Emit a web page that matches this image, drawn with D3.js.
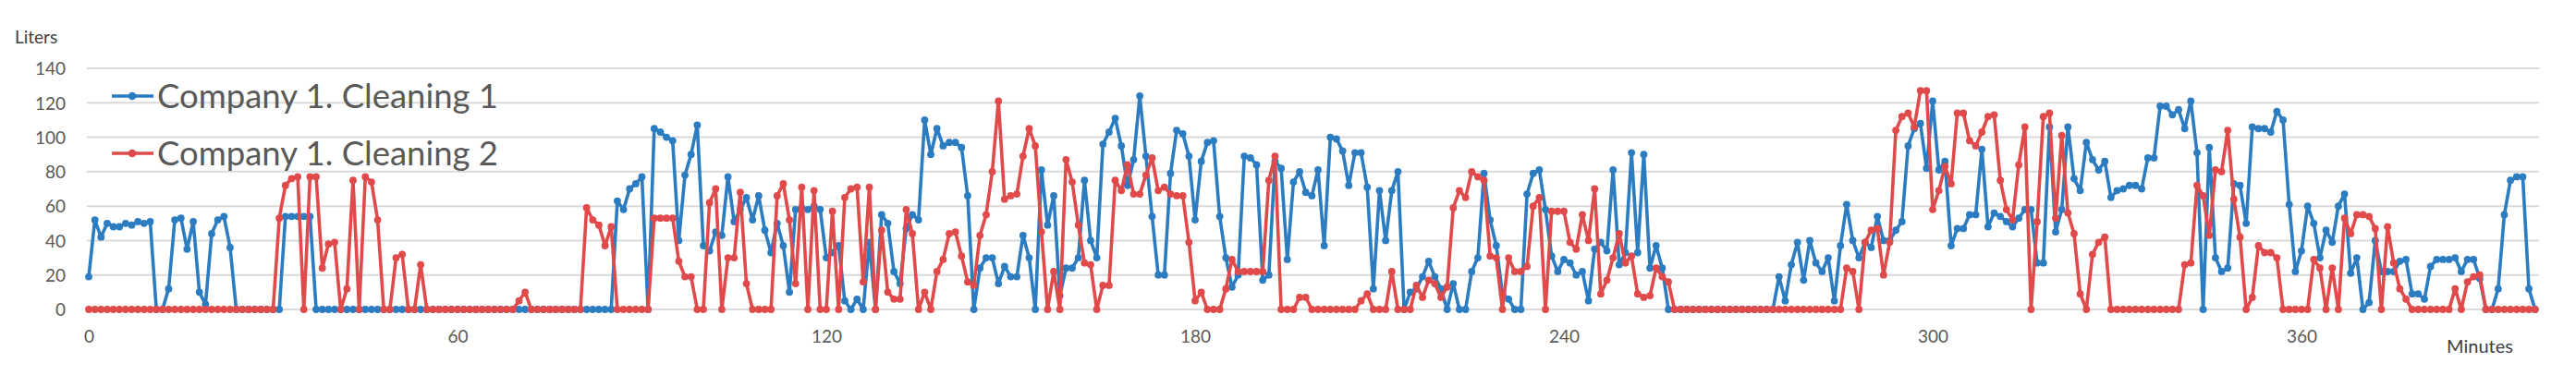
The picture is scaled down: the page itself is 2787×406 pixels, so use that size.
<!DOCTYPE html>
<html><head><meta charset="utf-8">
<script src="https://cdn.jsdelivr.net/npm/d3@7"></script>
<style>html,body{margin:0;padding:0;background:#fff;} svg{display:block;}</style>
</head><body>
<script>
// Minutes (category axis): one reading per minute, 0 .. 398
const minutes = d3.range(0, 399);

const cleaning1 = [
  19,52,42,50,48,48,50,49,51,50,
  51,0,0,12,52,53,35,51,10,3,
  44,52,54,36,0,0,0,0,0,0,
  0,0,54,54,54,54,54,0,0,0,
  0,0,0,0,0,0,0,0,0,0,
  0,0,0,0,0,0,0,0,0,0,
  0,0,0,0,0,0,0,0,0,0,
  0,0,0,0,0,0,0,0,0,0,
  0,0,0,0,0,0,63,58,70,73,
  77,0,105,103,100,98,40,78,90,107,
  37,34,45,43,77,51,58,65,52,66,
  46,33,50,37,10,58,59,58,60,58,
  30,33,37,5,0,6,0,39,0,55,
  50,22,15,47,55,52,110,90,105,95,
  97,97,94,66,0,24,30,30,15,25,
  19,19,43,30,0,81,49,66,8,24,
  24,30,75,40,30,96,103,111,95,72,
  87,124,89,54,20,20,79,104,102,89,
  52,86,97,98,54,30,13,20,89,88,
  84,17,20,86,82,29,74,80,68,66,
  81,37,100,99,92,72,91,91,71,12,
  69,40,69,80,0,10,12,19,28,19,
  12,0,15,0,0,22,30,79,52,37,
  9,6,0,0,67,79,81,58,31,22,
  29,27,20,22,5,35,39,34,81,26,
  33,91,33,90,24,37,24,0,0,0,
  0,0,0,0,0,0,0,0,0,0,
  0,0,0,0,0,19,5,26,39,17,
  40,27,22,30,5,37,61,40,30,39,
  36,54,40,40,46,51,95,105,108,82,
  121,81,86,37,47,47,55,55,93,48,
  56,54,51,48,53,58,58,27,27,106,
  45,58,106,76,69,97,87,81,86,65,
  69,70,72,72,70,88,88,118,118,113,
  116,105,121,91,0,94,30,22,24,73,
  72,50,106,105,105,103,115,110,61,22,
  34,60,50,30,46,39,60,67,21,30,
  0,4,40,22,22,22,28,29,9,9,
  6,25,29,29,29,30,22,29,29,18,
  0,0,12,55,75,77,77,12,0
];

const cleaning2 = [
  0,0,0,0,0,0,0,0,0,0,
  0,0,0,0,0,0,0,0,0,0,
  0,0,0,0,0,0,0,0,0,0,
  0,53,72,76,77,0,77,77,24,38,
  39,0,12,75,0,77,74,52,0,0,
  30,32,0,0,26,0,0,0,0,0,
  0,0,0,0,0,0,0,0,0,0,
  5,10,0,0,0,0,0,0,0,0,
  0,59,52,49,37,48,0,0,0,0,
  0,0,53,53,53,53,28,19,19,0,
  0,62,70,0,30,30,68,15,0,0,
  0,0,66,73,52,15,71,0,69,0,
  0,57,0,65,70,71,16,71,0,46,
  10,6,6,58,44,0,10,0,22,29,
  44,45,31,16,14,43,55,80,121,64,
  66,67,89,105,95,45,0,22,0,87,
  74,49,27,26,0,14,14,75,69,84,
  67,67,78,88,69,71,67,66,66,39,
  5,10,0,0,0,12,29,22,22,22,
  22,22,75,89,0,0,0,7,7,0,
  0,0,0,0,0,0,0,5,9,0,
  0,0,22,0,0,0,14,7,17,15,
  7,13,59,69,65,80,77,75,31,30,
  0,30,22,22,25,60,65,0,57,57,
  57,39,35,55,40,70,9,17,30,44,
  27,31,9,7,8,24,19,16,0,0,
  0,0,0,0,0,0,0,0,0,0,
  0,0,0,0,0,0,0,0,0,0,
  0,0,0,0,0,0,24,22,0,39,
  46,47,20,39,104,112,114,106,127,127,
  58,69,83,73,114,114,98,95,103,112,
  113,75,58,52,84,106,0,51,112,114,
  53,101,56,44,9,0,32,39,42,0,
  0,0,0,0,0,0,0,0,0,0,
  0,26,27,72,66,43,81,80,104,64,
  42,0,7,37,33,33,30,0,0,0,
  0,0,29,24,0,24,0,53,44,55,
  55,54,47,0,48,27,12,6,0,0,
  0,0,0,0,0,12,0,16,19,20,
  0,0,0,0,0,0,0,0,0
];

const seriesNames = ["Company 1. Cleaning 1", "Company 1. Cleaning 2"];
const seriesColors = ["#2c7cc2", "#e04a4a"];
const xTickValues = [0, 60, 120, 180, 240, 300, 360];
const yTickValues = [0, 20, 40, 60, 80, 100, 120, 140];

const W = 2787, H = 406;
const FONT = "Lato, 'Open Sans', sans-serif";

const svg = d3.select("body").append("svg")
  .attr("width", W).attr("height", H);

const x = d3.scaleLinear().domain([0, 398]).range([96, 2742.7]);
const y = d3.scaleLinear().domain([0, 140]).range([335, 74]);

// Gridlines
svg.append("g").selectAll("line").data(yTickValues).join("line")
  .attr("x1", 94).attr("x2", 2747)
  .attr("y1", d => y(d)).attr("y2", d => y(d))
  .attr("stroke", "#dadada").attr("stroke-width", 2);

// Y axis labels
const yAxisG = svg.append("g").attr("transform", "translate(71,0)")
  .call(d3.axisLeft(y).tickValues(yTickValues).tickSize(0).tickPadding(0));
yAxisG.select(".domain").remove();
yAxisG.selectAll("text")
  .attr("font-family", FONT).attr("font-size", 19).attr("fill", "#595959")
  .attr("dy", "0.36em");

// X axis labels
const xAxisG = svg.append("g").attr("transform", "translate(0,357)")
  .call(d3.axisBottom(x).tickValues(xTickValues).tickSize(0).tickPadding(0));
xAxisG.select(".domain").remove();
xAxisG.selectAll("text")
  .attr("font-family", FONT).attr("font-size", 19).attr("fill", "#595959")
  .attr("dy", "0.71em");

// Axis titles
svg.append("text").attr("x", 16).attr("y", 47)
  .attr("font-family", FONT).attr("font-size", 19).attr("fill", "#404040")
  .text("Liters");
svg.append("text").attr("x", 2683).attr("y", 382).attr("text-anchor", "middle")
  .attr("font-family", FONT).attr("font-size", 20).attr("fill", "#404040")
  .text("Minutes");

// Series
const seriesData = [cleaning1, cleaning2];
const line = d3.line().x((d, i) => x(minutes[i])).y(d => y(d));

seriesData.forEach((vals, s) => {
  const g = svg.append("g");
  g.append("path").datum(vals)
    .attr("d", line)
    .attr("fill", "none")
    .attr("stroke", seriesColors[s])
    .attr("stroke-width", 3.6)
    .attr("stroke-linejoin", "round")
    .attr("stroke-linecap", "round");
  g.selectAll("circle").data(vals).join("circle")
    .attr("cx", (d, i) => x(minutes[i]))
    .attr("cy", d => y(d))
    .attr("r", 3.9)
    .attr("fill", seriesColors[s]);
});

// Legend
const legendY = [104, 166];
seriesNames.forEach((name, s) => {
  const g = svg.append("g").attr("transform", `translate(0,${legendY[s]})`);
  g.append("line").attr("x1", 121).attr("x2", 166).attr("y1", 0).attr("y2", 0)
    .attr("stroke", seriesColors[s]).attr("stroke-width", 3.6);
  g.append("circle").attr("cx", 143).attr("cy", 0).attr("r", 4.3)
    .attr("fill", seriesColors[s]);
  g.append("text").attr("x", 170).attr("y", 0).attr("dy", "0.35em")
    .attr("font-family", FONT).attr("font-size", 36.5).attr("fill", "#595959")
    .text(name);
});
</script>
</body></html>
